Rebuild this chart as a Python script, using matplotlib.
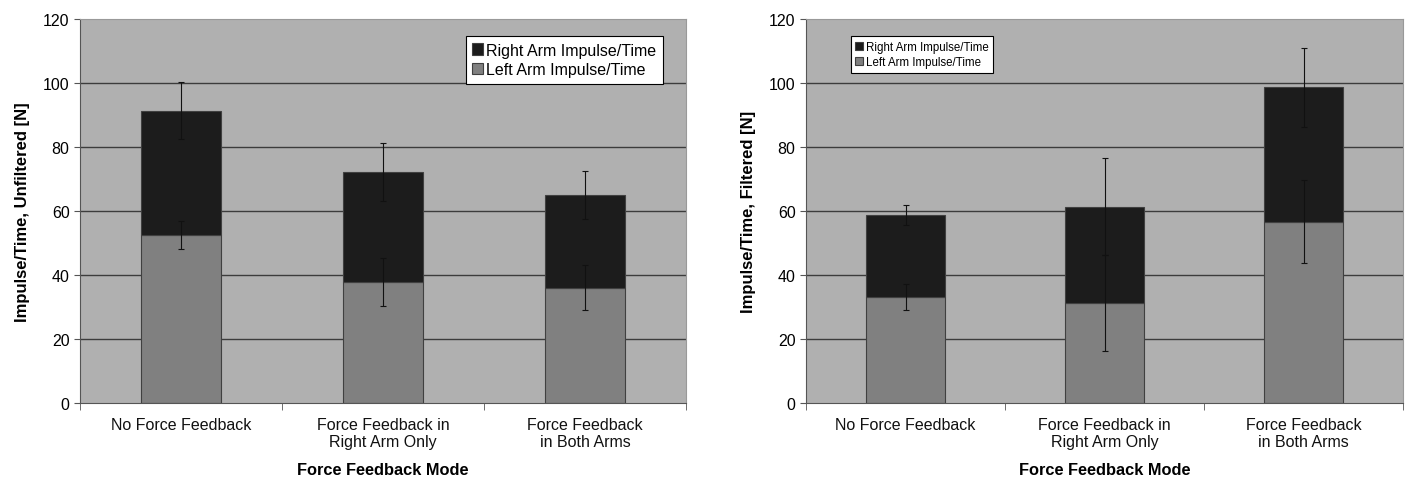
import matplotlib
matplotlib.use("Agg")
import matplotlib.pyplot as plt
import numpy as np

plt.rcParams['font.family'] = ['Liberation Sans', 'DejaVu Sans']

categories = ["No Force Feedback", "Force Feedback in\nRight Arm Only", "Force Feedback\nin Both Arms"]

# Unfiltered panel
unf_left = [52.5, 37.8, 36.0]
unf_right = [38.9, 34.3, 29.1]
unf_left_err = [4.5, 7.5, 7.0]
unf_right_err = [8.8, 9.0, 7.5]

# Filtered panel
fil_left = [33.1, 31.3, 56.6]
fil_right = [25.6, 30.1, 42.1]
fil_left_err = [4.0, 15.0, 13.0]
fil_right_err = [3.1, 15.2, 12.3]

yticks = [0, 20, 40, 60, 80, 100, 120]

fig = plt.figure(figsize=(14.12, 4.81), dpi=100)
ax1 = fig.add_axes([80/1412, 1-404/481, 606/1412, 384/481])
ax2 = fig.add_axes([806/1412, 1-404/481, 597/1412, 384/481])

def draw(ax, left, right, lerr, rerr, ylabel, legend_loc, legend_fs, bbox):
    x = np.arange(len(categories))
    ax.set_facecolor('#b0b0b0')
    for y in yticks[1:-1]:
        ax.axhline(y, color='#3c3c3c', lw=1.0, zorder=1)
    ax.bar(x, left, width=0.4, color='#808080', edgecolor='#404040', lw=0.8, zorder=2,
           label='Left Arm Impulse/Time')
    tot = np.array(left) + np.array(right)
    ax.bar(x, right, bottom=left, width=0.4, color='#1c1c1c', edgecolor='#404040', lw=0.8, zorder=2,
           label='Right Arm Impulse/Time')
    ax.errorbar(x, left, yerr=lerr, fmt='none', ecolor='#111111', elinewidth=0.8, capsize=2, capthick=0.8, zorder=3)
    ax.errorbar(x, tot, yerr=rerr, fmt='none', ecolor='#111111', elinewidth=0.8, capsize=2, capthick=0.8, zorder=3)
    ax.set_xlim(-0.5, 2.5)
    ax.set_ylim(0, 120)
    ax.set_yticks(yticks)
    ax.set_yticklabels([str(v) for v in yticks], fontsize=11.5)
    ax.set_xticks(x)
    ax.set_xticklabels(categories, fontsize=11.5, color='#111111')
    ax.tick_params(axis='x', which='major', length=0, pad=10)
    ax.set_xticks([-0.5, 0.5, 1.5, 2.5], minor=True)
    ax.tick_params(axis='x', which='minor', length=5, color='#555555', direction='out')
    ax.tick_params(axis='y', length=4, color='#555555', direction='out')
    for s in ['top', 'right']:
        ax.spines[s].set_color('#999999')
        ax.spines[s].set_linewidth(0.8)
    for s in ['left', 'bottom']:
        ax.spines[s].set_color('#555555')
        ax.spines[s].set_linewidth(0.8)
    ax.set_ylabel(ylabel, fontsize=12, fontweight='bold', labelpad=9)
    ax.set_xlabel("Force Feedback Mode", fontsize=11.8, fontweight='bold', labelpad=9)
    h, l = ax.get_legend_handles_labels()
    leg = ax.legend(h[::-1], l[::-1], loc=legend_loc, bbox_to_anchor=bbox, fontsize=legend_fs,
                    frameon=True, fancybox=False, edgecolor='black', framealpha=1,
                    handlelength=0.7, handleheight=0.7, handletextpad=0.2, borderpad=0.4,
                    labelspacing=0.3, borderaxespad=0)
    leg.get_frame().set_linewidth(0.8)

draw(ax1, unf_left, unf_right, unf_left_err, unf_right_err,
     "Impulse/Time, Unfiltered [N]", 'upper right', 11.5, (0.962, 0.955))
draw(ax2, fil_left, fil_right, fil_left_err, fil_right_err,
     "Impulse/Time, Filtered [N]", 'upper left', 8.3, (0.075, 0.955))

fig.savefig("out.png", dpi=100, facecolor='white')
